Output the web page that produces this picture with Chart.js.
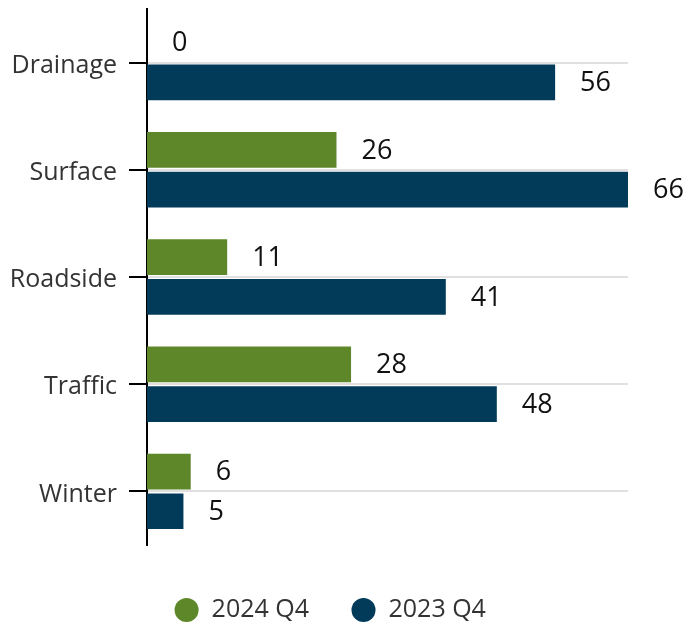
<!DOCTYPE html>
<html>
<head>
<meta charset="utf-8">
<script src="https://cdn.jsdelivr.net/npm/chart.js@4"></script>
<style>
  body { margin: 0; background: #fff; }
  #wrap { width: 688px; height: 631px; }
</style>
</head>
<body>
<div id="wrap"><canvas id="myChart"></canvas></div>
<script>
const categories = ['Drainage', 'Surface', 'Roadside', 'Traffic', 'Winter']
const q4_2024 = [0, 26, 11, 28, 6]
const q4_2023 = [56, 66, 41, 48, 5]
const seriesNames = ['2024 Q4', '2023 Q4']

const green = '#5e8729'
const navy = '#023b5a'

// value labels to the right of each bar
const valueLabels = {
  id: 'valueLabels',
  afterDatasetsDraw(chart) {
    const ctx = chart.ctx
    ctx.save()
    ctx.font = '27px "Open Sans"'
    ctx.fillStyle = '#111'
    ctx.textBaseline = 'middle'
    ctx.textAlign = 'left'
    chart.data.datasets.forEach((ds, i) => {
      chart.getDatasetMeta(i).data.forEach((bar, j) => {
        ctx.fillText(ds.data[j], bar.x + 25, bar.y + 1)
      })
    })
    ctx.restore()
  }
}

// nudge the legend a bit right, like the original
const shiftLegend = {
  id: 'shiftLegend',
  afterLayout(chart) {
    chart.legend.left += 16
    chart.legend.right += 16
  }
}

const config = {
  type: 'bar',
  data: {
    labels: categories,
    datasets: [
      { label: seriesNames[0], data: q4_2024, backgroundColor: green },
      { label: seriesNames[1], data: q4_2023, backgroundColor: navy }
    ]
  },
  options: {
    indexAxis: 'y',
    responsive: true,
    maintainAspectRatio: false,
    animation: false,
    categoryPercentage: 0.74,
    barPercentage: 0.9,
    layout: { padding: { top: 9, right: 60, bottom: -1.5, left: 0 } },
    scales: {
      x: { display: false, min: 0, max: 66 },
      y: {
        afterFit: (s) => { s.width = 147; s.paddingTop = 0; s.paddingBottom = 0 },
        border: { color: '#000', width: 2 },
        grid: { offset: false, color: '#e0e0e0', lineWidth: 2, tickLength: 18, tickColor: '#000', tickWidth: 2 },
        ticks: { color: '#333', padding: 12, labelOffset: 3, font: { family: 'Open Sans', size: 25 } }
      }
    },
    plugins: {
      tooltip: { enabled: false },
      legend: {
        position: 'bottom',
        title: { display: true, text: '', padding: 0, font: { size: 8.75 } },
        labels: {
          usePointStyle: true,
          pointStyle: 'circle',
          boxHeight: 17,
          padding: 42,
          color: '#333',
          font: { family: 'Open Sans', size: 25 }
        }
      }
    }
  },
  plugins: [valueLabels, shiftLegend]
}

const myChart = new Chart(document.getElementById('myChart'), config)
</script>
</body>
</html>
